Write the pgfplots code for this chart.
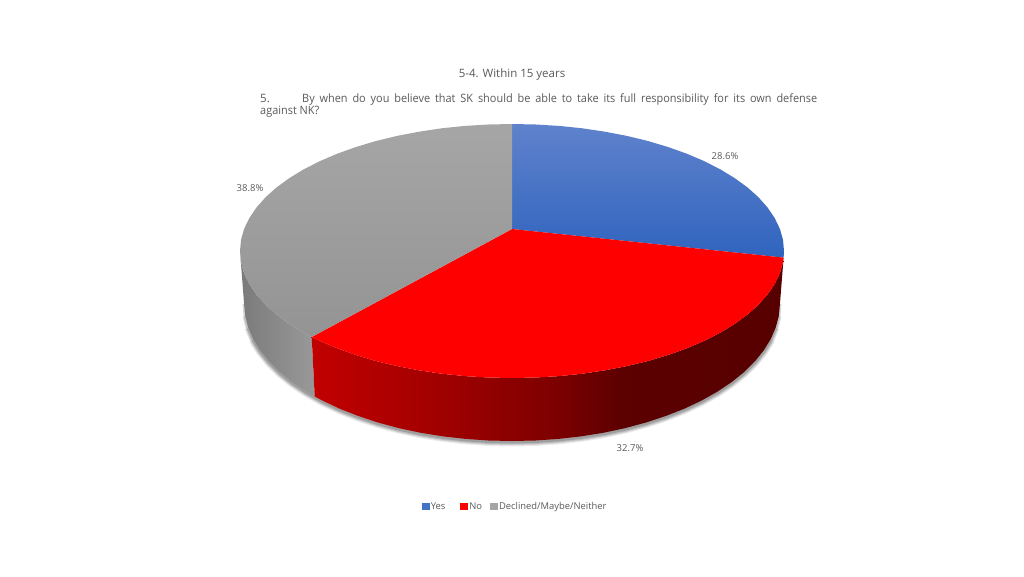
\documentclass[border=0pt]{standalone}
\usepackage{fontspec}
\setmainfont{Open Sans}
\newfontfamily\narrowf[FakeStretch=0.95]{Open Sans}
\usepackage{pgfplots}
\usepackage{pgfplotstable}
\pgfplotsset{compat=1.18}

\definecolor{txt}{HTML}{595959}
\definecolor{blueleg}{HTML}{4472C4}
\definecolor{grayleg}{HTML}{A5A5A5}
\definecolor{bluetop}{HTML}{5F82CC}
\definecolor{bluebot}{HTML}{3064BE}
% red side goes dark quickly then stays flat, central 50bp = bbox
\pgfdeclarehorizontalshading{redside}{100bp}{
  color(0bp)=(red!76!black); color(25bp)=(red!76!black);
  color(38.6bp)=(red!63!black); color(50.2bp)=(red!50!black);
  color(58bp)=(red!36!black); color(75bp)=(red!34!black); color(100bp)=(red!34!black)}

% bottom rim, for the soft shadow
\pgfplotstableread{
x y
782 289
780 303
779 315
775.9 327
770.9 338.7
763.8 350.2
754.9 361.3
744.1 372
731.5 382.2
717.3 391.7
701.5 400.6
684.3 408.7
665.7 416
646 422.5
625.3 428.1
603.7 432.7
581.4 436.3
558.5 438.9
535.4 440.5
512 441
488.6 440.5
465.5 438.9
442.6 436.3
420.3 432.7
398.7 428.1
378 422.5
358.3 416
339.7 408.7
322.5 400.6
306.7 391.7
292.5 382.2
279.9 372
269.1 361.3
260.2 350.2
253.1 338.7
248.1 327
245 315
244 303
242 289
}\rimtable

\begin{document}
\begin{tikzpicture}
\path[use as bounding box] (0,0) rectangle (1024pt,576pt);
\begin{axis}[
    at={(0,0)}, anchor=south west,
    scale only axis, width=1024pt, height=576pt,
    xmin=0, xmax=1024, ymin=0, ymax=576,
    y dir=reverse, hide axis, clip=false,
    legend style={at={(axis cs:422,506.5)}, anchor=west, draw=none, fill=none,
        inner sep=0pt, outer sep=0pt, font=\fontsize{9.4}{12}\selectfont\color{txt},
        legend columns=-1,
        nodes={inner sep=0pt},
        /tikz/every even column/.style={column sep=15pt},
        /tikz/every odd column/.style={column sep=1.5pt}},
    legend image code/.code={\fill[#1] (0pt,-3pt) rectangle (7pt,3.5pt);},
]
%% shadow, the wider layers stop short so that the ends fade out
\addplot[forget plot, draw=black, opacity=0.07, line width=9pt, skip coords between index={0}{4}, skip coords between index={35}{39}] table[x=x, y expr=\thisrow{y}+1] {\rimtable};
\addplot[forget plot, draw=black, opacity=0.10, line width=7pt, skip coords between index={0}{3}, skip coords between index={36}{39}] table[x=x, y expr=\thisrow{y}+1] {\rimtable};
\addplot[forget plot, draw=black, opacity=0.12, line width=5pt, skip coords between index={0}{2}, skip coords between index={37}{39}] table[x=x, y expr=\thisrow{y}+1] {\rimtable};
\addplot[forget plot, draw=black, opacity=0.15, line width=3pt, skip coords between index={0}{1}, skip coords between index={38}{39}] table[x=x, y expr=\thisrow{y}+1] {\rimtable};
%% gray side
\addplot[forget plot, draw=none, left color=black!52, right color=black!40] coordinates {
 (311.7,337)(303.6,332.6)(289.2,323.8)(276.4,314.5)(265.5,304.7)(256.4,294.4)(249.3,283.9)(244.1,273.1)(241,262.1)(240,251)
 (244,303)(245,315)(248.1,327)(253.1,338.7)(260.2,350.2)(269.1,361.3)(279.9,372)(292.5,382.2)(306.7,391.7)(314.7,396.4)
} -- cycle;
%% red side
\addplot[forget plot, draw=none, shading=redside] coordinates {
 (783.6,257.6)(783,262.1)(779.9,273.1)(774.7,283.9)(767.6,294.4)(758.5,304.7)(747.6,314.5)(734.8,323.8)(720.4,332.6)(704.3,340.8)
 (686.8,348.3)(668,355)(648,361)(626.9,366.1)(605,370.3)(582.4,373.7)(559.2,376.1)(535.7,377.5)(512,378)(488.3,377.5)
 (464.8,376.1)(441.6,373.7)(419,370.3)(397.1,366.1)(376,361)(356,355)(337.2,348.3)(319.7,340.8)(311.7,337)
 (314.7,396.4)(322.5,400.6)(339.7,408.7)(358.3,416)(378,422.5)(398.7,428.1)(420.3,432.7)(442.6,436.3)(465.5,438.9)(488.6,440.5)
 (512,441)(535.4,440.5)(558.5,438.9)(581.4,436.3)(603.7,432.7)(625.3,428.1)(646,422.5)(665.7,416)(684.3,408.7)(701.5,400.6)
 (717.3,391.7)(731.5,382.2)(744.1,372)(754.9,361.3)(763.8,350.2)(770.9,338.7)(775.9,327)(779,315)(780,303)
} -- cycle;
%% top: Yes 28.6
\addplot[forget plot, draw=none, top color=bluetop, bottom color=bluebot] coordinates {
 (512,229)(512,124)(535.7,124.5)(559.2,125.9)(582.4,128.3)(605,131.7)(626.9,135.9)(648,141)(668,147)(686.8,153.7)
 (704.3,161.2)(720.4,169.4)(734.8,178.2)(747.6,187.5)(758.5,197.3)(767.6,207.6)(774.7,218.1)(779.9,228.9)(783,239.9)(784,251)(783.6,257.6)
} -- cycle;
%% top: No 32.7
\addplot[forget plot, draw=none, fill=red] coordinates {
 (512,229)(783.6,257.6)(783,262.1)(779.9,273.1)(774.7,283.9)(767.6,294.4)(758.5,304.7)(747.6,314.5)(734.8,323.8)(720.4,332.6)(704.3,340.8)
 (686.8,348.3)(668,355)(648,361)(626.9,366.1)(605,370.3)(582.4,373.7)(559.2,376.1)(535.7,377.5)(512,378)(488.3,377.5)
 (464.8,376.1)(441.6,373.7)(419,370.3)(397.1,366.1)(376,361)(356,355)(337.2,348.3)(319.7,340.8)(311.7,337)
} -- cycle;
%% top: Declined 38.8
\addplot[forget plot, draw=none, top color=black!35, bottom color=black!42] coordinates {
 (512,229)(311.7,337)(303.6,332.6)(289.2,323.8)(276.4,314.5)(265.5,304.7)(256.4,294.4)(249.3,283.9)(244.1,273.1)(241,262.1)(240,251)
 (241,239.9)(244.1,228.9)(249.3,218.1)(256.4,207.6)(265.5,197.3)(276.4,187.5)(289.2,178.2)(303.6,169.4)(319.7,161.2)(337.2,153.7)
 (356,147)(376,141)(397.1,135.9)(419,131.7)(441.6,128.3)(464.8,125.9)(488.3,124.5)(512,124)
} -- cycle;
%% legend
\addlegendimage{blueleg}\addlegendentry{Yes}
\addlegendimage{red}\addlegendentry{No\kern-7pt}
\addlegendimage{grayleg}\addlegendentry{Declined/Maybe/Neither}
%% texts
\begin{scope}[every node/.style={text=txt, inner sep=0pt}]
\node[anchor=base, font=\fontsize{11.5}{14}\selectfont] at (axis cs:512,77) {5-4. Within 15 years};
\node[anchor=base west, font=\fontsize{11.5}{14}\selectfont] at (axis cs:260,102) {5.};
\node[anchor=base west, font=\fontsize{11.5}{14}\narrowf] at (axis cs:302,102)
  {\makebox[515pt][s]{By when do you believe that SK should be able to take its full responsibility for its own defense}};
\node[anchor=base west, font=\fontsize{11.5}{14}\narrowf] at (axis cs:260,114.5) {against NK?};
\node[font=\fontsize{9.5}{11}\selectfont] at (axis cs:725,156) {28.6\%};
\node[font=\fontsize{9.5}{11}\selectfont] at (axis cs:250,188) {38.8\%};
\node[font=\fontsize{9.5}{11}\selectfont] at (axis cs:630,448) {32.7\%};
\end{scope}
\end{axis}
\end{tikzpicture}
\end{document}
